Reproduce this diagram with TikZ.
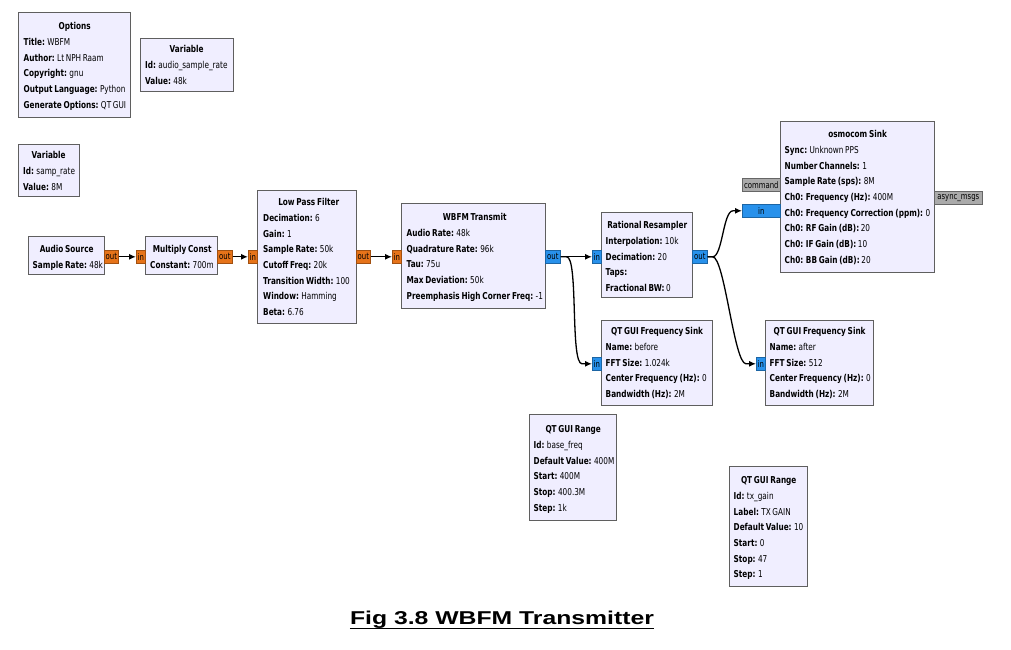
\documentclass[tikz,border=0pt]{standalone}
\usepackage{fontspec}
\setmainfont{DejaVu Sans}
\newfontfamily\grcfont[FakeStretch=0.77,WordSpace=0.7]{DejaVu Sans}
\newfontfamily\titlefont[FakeStretch=1.33]{Liberation Sans}
\usetikzlibrary{arrows.meta,calc}
\definecolor{blkfill}{RGB}{240,238,255}
\definecolor{blkdraw}{RGB}{95,95,95}
\definecolor{portorange}{RGB}{230,115,25}
\definecolor{portblue}{RGB}{40,145,235}
\definecolor{portgray}{RGB}{170,170,170}
\newcommand\btitle[1]{\rule{0pt}{8pt}\hfill\mbox{\textbf{#1}}\hfill\null\\}
\newcommand\kv[2]{\mbox{\textbf{#1:} #2}}
\begin{document}
\begin{tikzpicture}[x=1pt,y=-1pt,
  blk/.style={draw=blkdraw, fill=blkfill, line width=1.4pt, anchor=north west, inner sep=0pt},
  txt/.style={anchor=north west, inner sep=0pt, align=flush left, font=\grcfont\fontsize{9.5}{15.7}\selectfont\setlength\parindent{0pt}},
  port/.style={anchor=north west, inner sep=0pt, line width=0.6pt, font=\grcfont\fontsize{9}{10}\selectfont},
  oport/.style={port, fill=portorange, draw=portorange!70!black},
  bport/.style={port, fill=portblue, draw=portblue!70!black},
  gport/.style={port, fill=portgray, draw=portgray!60!black},
  conn/.style={draw=black, line width=1.3pt, -{Latex[length=7pt,width=6pt]}}
]
\fill[white] (0,0) rectangle (1011,649);
\useasboundingbox (0,0) rectangle (1011,649);

% Options
\node[blk, minimum width=112pt, minimum height=105pt] (opt) at (18,12) {};
\node[txt, text width=102pt] (opt-t) at (23.5,21.5) {\btitle{Options}\kv{Title}{WBFM}\\\kv{Author}{Lt NPH Raam}\\\kv{Copyright}{gnu}\\\kv{Output Language}{Python}\\\kv{Generate Options}{QT GUI}};

% Variable audio_sample_rate
\node[blk, minimum width=93pt, minimum height=53pt] (var1) at (140,38) {};
\node[txt, text width=83pt] (var1-t) at (145,44.5) {\btitle{Variable}\kv{Id}{audio\_sample\_rate}\\\kv{Value}{48k}};

% Variable samp_rate
\node[blk, minimum width=61pt, minimum height=52pt] (var2) at (18,144) {};
\node[txt, text width=51pt] (var2-t) at (23,150.5) {\btitle{Variable}\kv{Id}{samp\_rate}\\\kv{Value}{8M}};

% Audio Source
\node[blk, minimum width=76pt, minimum height=38pt] (as) at (28,236) {};
\node[txt, text width=68pt] (as-t) at (32.5,244.5) {\btitle{Audio Source}\kv{Sample Rate}{48k}};

% Multiply Const
\node[blk, minimum width=72pt, minimum height=38pt] (mc) at (145,236) {};
\node[txt, text width=64pt] (mc-t) at (150,244.5) {\btitle{Multiply Const}\kv{Constant}{700m}};

% Low Pass Filter
\node[blk, minimum width=99pt, minimum height=133pt] (lpf) at (257,190) {};
\node[txt, text width=91pt] (lpf-t) at (263,197.5) {\btitle{Low Pass Filter}\kv{Decimation}{6}\\\kv{Gain}{1}\\\kv{Sample Rate}{50k}\\\kv{Cutoff Freq}{20k}\\\kv{Transition Width}{100}\\\kv{Window}{Hamming}\\\kv{Beta}{6.76}};

% WBFM Transmit
\node[blk, minimum width=144pt, minimum height=105pt] (wb) at (401,203) {};
\node[txt, text width=136pt] (wb-t) at (406.5,212.5) {\btitle{WBFM Transmit}\kv{Audio Rate}{48k}\\\kv{Quadrature Rate}{96k}\\\kv{Tau}{75u}\\\kv{Max Deviation}{50k}\\\kv{Preemphasis High Corner Freq}{-1}};

% Rational Resampler
\node[blk, minimum width=91pt, minimum height=85pt] (rr) at (601,212) {};
\node[txt, text width=83pt] (rr-t) at (605.5,220.5) {\btitle{Rational Resampler}\kv{Interpolation}{10k}\\\kv{Decimation}{20}\\\kv{Taps}{}\\\kv{Fractional BW}{0}};

% QT GUI Frequency Sink (before)
\node[blk, minimum width=111pt, minimum height=85pt] (s1) at (601,320) {};
\node[txt, text width=103pt] (s1-t) at (605.5,326.5) {\btitle{QT GUI Frequency Sink}\kv{Name}{before}\\\kv{FFT Size}{1.024k}\\\kv{Center Frequency (Hz)}{0}\\\kv{Bandwidth (Hz)}{2M}};

% QT GUI Frequency Sink (after)
\node[blk, minimum width=108pt, minimum height=85pt] (s2) at (765,320) {};
\node[txt, text width=100pt] (s2-t) at (769.5,326.5) {\btitle{QT GUI Frequency Sink}\kv{Name}{after}\\\kv{FFT Size}{512}\\\kv{Center Frequency (Hz)}{0}\\\kv{Bandwidth (Hz)}{2M}};

% osmocom Sink
\node[blk, minimum width=154pt, minimum height=151pt] (os) at (780,121) {};
\node[txt, text width=146pt] (os-t) at (784.5,129.5) {\btitle{osmocom Sink}\kv{Sync}{Unknown PPS}\\\kv{Number Channels}{1}\\\kv{Sample Rate (sps)}{8M}\\\kv{Ch0: Frequency (Hz)}{400M}\\\kv{Ch0: Frequency Correction (ppm)}{0}\\\kv{Ch0: RF Gain (dB)}{20}\\\kv{Ch0: IF Gain (dB)}{10}\\\kv{Ch0: BB Gain (dB)}{20}};

% QT GUI Range base_freq
\node[blk, minimum width=87pt, minimum height=106pt] (rg1) at (529,414) {};
\node[txt, text width=79pt] (rg1-t) at (533.5,424.5) {\btitle{QT GUI Range}\kv{Id}{base\_freq}\\\kv{Default Value}{400M}\\\kv{Start}{400M}\\\kv{Stop}{400.3M}\\\kv{Step}{1k}};

% QT GUI Range tx_gain
\node[blk, minimum width=78pt, minimum height=120pt] (rg2) at (729,466) {};
\node[txt, text width=70pt] (rg2-t) at (733.5,475.5) {\btitle{QT GUI Range}\kv{Id}{tx\_gain}\\\kv{Label}{TX GAIN}\\\kv{Default Value}{10}\\\kv{Start}{0}\\\kv{Stop}{47}\\\kv{Step}{1}};

% Ports
\node[oport, minimum width=14pt, minimum height=13pt] (as-out) at (104,250) {out};
\node[oport, minimum width=9pt, minimum height=13pt] (mc-in) at (136,250) {in};
\node[oport, minimum width=15pt, minimum height=13pt] (mc-out) at (217,250) {out};
\node[oport, minimum width=9pt, minimum height=13pt] (lpf-in) at (248,250) {in};
\node[oport, minimum width=14pt, minimum height=13pt] (lpf-out) at (356,250) {out};
\node[oport, minimum width=9pt, minimum height=13pt] (wb-in) at (392,250) {in};
\node[bport, minimum width=15pt, minimum height=13pt] (wb-out) at (545,250) {out};
\node[bport, minimum width=9pt, minimum height=13pt] (rr-in) at (592,250) {in};
\node[bport, minimum width=15pt, minimum height=13pt] (rr-out) at (692,250) {out};
\node[bport, minimum width=9pt, minimum height=13pt] (s1-in) at (592,357) {in};
\node[bport, minimum width=9pt, minimum height=13pt] (s2-in) at (756,357) {in};
\node[gport, minimum width=38pt, minimum height=13pt] (os-cmd) at (742,178) {command};
\node[bport, minimum width=38pt, minimum height=13pt] (os-in) at (742,204) {in};
\node[gport, minimum width=48pt, minimum height=13pt] (os-async) at (934,191) {async\_msgs};

% Connections
\draw[conn] (as-out.east) -- (mc-in.west);
\draw[conn] (mc-out.east) -- (lpf-in.west);
\draw[conn] (lpf-out.east) -- (wb-in.west);
\draw[conn] (wb-out.east) -- (rr-in.west);
\draw[conn] (wb-out.east) -- ++(6,0) .. controls +(12,0) and +(-12,0) .. ($(s1-in.west)+(-10,0)$) -- (s1-in.west);
\draw[conn] (rr-out.east) -- ++(5,0) .. controls +(10,0) and +(-10,0) .. ($(os-in.west)+(-9,0)$) -- (os-in.west);
\draw[conn] (rr-out.east) -- ++(5,0) .. controls +(12,0) and +(-12,0) .. ($(s2-in.west)+(-10,0)$) -- (s2-in.west);

% Caption
\node[inner sep=0pt, anchor=base, font=\titlefont\bfseries\fontsize{18.6}{20}\selectfont] (title) at (502,624) {Fig 3.8 WBFM Transmitter};
\draw[line width=1.8pt] ([yshift=-4.5pt]title.base west) -- ([yshift=-4.5pt]title.base east);
\end{tikzpicture}
\end{document}
